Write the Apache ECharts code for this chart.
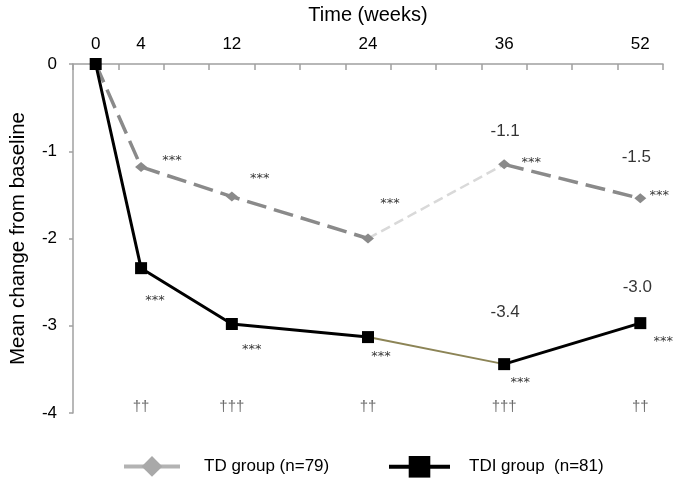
<!DOCTYPE html>
<html>
<head>
<meta charset="utf-8">
<script src="https://cdn.jsdelivr.net/npm/echarts@6/dist/echarts.min.js"></script>
<style>
html,body{margin:0;padding:0;background:#fff;}
#chart{width:673px;height:488px;}
</style>
</head>
<body>
<div id="chart"></div>
<script>
// ---- data ----
const xTickLabels = ['0','4','','12','','','24','','','36','','','52'];
const tdValues  = [0, -1.18, null, -1.52, null, null, -2.00, null, null, -1.15, null, null, -1.54];
const tdiValues = [0, -2.34, null, -2.98, null, null, -3.13, null, null, -3.44, null, null, -2.97];
const tdStars   = ['', '***', '', '***', '', '', '***', '', '', '***', '', '', '***'];
const tdiStars  = ['', '***', '', '***', '', '', '***', '', '', '***', '', '', '***'];
const tdValueLabels  = ['', '', '', '', '', '', '', '', '', '-1.1', '', '', '-1.5'];
const tdiValueLabels = ['', '', '', '', '', '', '', '', '', '-3.4', '', '', '-3.0'];
const daggers = ['', '††', '', '†††', '', '', '††', '', '', '†††', '', '', '††'];
const tdName = 'TD group (n=79)';
const tdiName = 'TDI group  (n=81)';
const yTicks = { min: -4, max: 0, step: 1 };
const specialFrom = '24', specialTo = '36';

// ---- styles (offsets in px) ----
const tdStarOffsets  = {1:[31,-6], 3:[28,-18], 6:[22,-35], 9:[27,-2], 12:[19,-3]};
const tdiStarOffsets = {1:[14,32], 3:[20,26], 6:[13,20], 9:[16,18], 12:[23,18]};
const tdValOffsets   = {9:[1,-33], 12:[-4,-41]};
const tdiValOffsets  = {9:[1,-52], 12:[-3,-36]};
const FONT = 'Liberation Sans, Arial, Helvetica, sans-serif';
const STAR_FONT = 'DejaVu Sans, sans-serif';

const iFrom = xTickLabels.indexOf(specialFrom);
const iTo = xTickLabels.indexOf(specialTo);
function slice(arr, a, b) { return arr.map((v, i) => (i >= a && i <= b) ? v : null); }

function segSeries(data, style) {
  return { type: 'line', data: data, connectNulls: true, showSymbol: false, symbol: 'none',
           silent: true, lineStyle: style, z: 2 };
}
function annot(values, texts, offsets, fontSize, color, family) {
  const d = [];
  values.forEach((v, i) => {
    if (v == null || !texts[i]) return;
    const off = offsets[i] || [0, 0];
    d.push({ value: [i, v], label: { show: true, formatter: texts[i], offset: off } });
  });
  return { type: 'scatter', data: d, symbolSize: 1, silent: true, z: 5,
           itemStyle: { color: 'rgba(0,0,0,0)' },
           label: { show: true, position: 'inside', fontSize: fontSize, color: color, fontFamily: family || FONT } };
}

const tdDark = { color: '#8a8a8a', width: 3.5, type: [20, 8] };
const tdLight = { color: '#d9d9d9', width: 2.5, type: [10, 5] };
const tdiDark = { color: '#000000', width: 3, type: 'solid' };
const tdiOlive = { color: '#8c8456', width: 2, type: 'solid' };

const daggerVals = daggers.map(() => yTicks.min);
const daggerOffsets = {};
daggers.forEach((t, i) => { daggerOffsets[i] = [0, -6]; });

const chart = echarts.init(document.getElementById('chart'), null, { renderer: 'canvas' });
chart.setOption({
  animation: false,
  backgroundColor: '#fff',
  textStyle: { fontFamily: FONT },
  grid: { left: 66, right: 10, top: 63, bottom: 75, containLabel: false },
  legend: [
    { data: [{ name: tdName, itemStyle: { color: '#a9a9a9' }, lineStyle: { color: '#b3b3b3', width: 4, type: 'solid' } }],
      left: 117, top: 451, itemWidth: 56, itemHeight: 26,
      textStyle: { fontSize: 17, color: '#000', fontFamily: FONT, padding: [0, 0, 0, 19] } },
    { data: [{ name: tdiName, itemStyle: { color: '#000' }, lineStyle: { color: '#000', width: 4, type: 'solid' } }],
      left: 382, top: 451, itemWidth: 61, itemHeight: 27,
      textStyle: { fontSize: 17, color: '#000', fontFamily: FONT, padding: [0, 0, 0, 14] } }
  ],
  xAxis: {
    type: 'category', position: 'top', data: xTickLabels, boundaryGap: true,
    name: 'Time (weeks)', nameLocation: 'middle', nameGap: 39,
    nameTextStyle: { fontSize: 20, color: '#000', fontFamily: FONT },
    axisLine: { show: true, lineStyle: { color: '#a0a0a0', width: 1.5 } },
    axisTick: { show: true, inside: true, length: 6, alignWithLabel: false, interval: 0, lineStyle: { color: '#a0a0a0', width: 1.5 } },
    axisLabel: { interval: 0, fontSize: 17, color: '#000', margin: 11, fontFamily: FONT },
    splitLine: { show: false }
  },
  yAxis: {
    type: 'value', min: yTicks.min, max: yTicks.max, interval: yTicks.step,
    name: 'Mean change from baseline', nameLocation: 'middle', nameGap: 44,
    nameTextStyle: { fontSize: 20.5, color: '#000', fontFamily: FONT },
    axisLine: { show: true, lineStyle: { color: '#a0a0a0', width: 1.5 } },
    axisTick: { show: true, inside: false, length: 4, lineStyle: { color: '#a0a0a0', width: 1.5 } },
    axisLabel: { fontSize: 17, color: '#000', margin: 16, fontFamily: FONT },
    splitLine: { show: false }
  },
  series: [
    segSeries(slice(tdValues, 0, iFrom), tdDark),
    segSeries(slice(tdValues, iFrom, iTo), tdLight),
    segSeries(slice(tdValues, iTo, tdValues.length - 1), tdDark),
    segSeries(slice(tdiValues, 0, iFrom), tdiDark),
    segSeries(slice(tdiValues, iFrom, iTo), tdiOlive),
    segSeries(slice(tdiValues, iTo, tdiValues.length - 1), tdiDark),
    { name: tdName, type: 'line', data: tdValues, connectNulls: true, symbol: 'diamond', symbolSize: [12, 10],
      showSymbol: true, showAllSymbol: true, itemStyle: { color: '#8a8a8a' },
      lineStyle: { width: 0, color: '#8a8a8a' }, z: 3 },
    { name: tdiName, type: 'line', data: tdiValues, connectNulls: true, symbol: 'rect', symbolSize: 12,
      showSymbol: true, showAllSymbol: true, itemStyle: { color: '#000' },
      lineStyle: { width: 0, color: '#000' }, z: 4 },
    annot(tdValues, tdStars, tdStarOffsets, 13, '#000', STAR_FONT),
    annot(tdiValues, tdiStars, tdiStarOffsets, 13, '#000', STAR_FONT),
    annot(tdValues, tdValueLabels, tdValOffsets, 17, '#000'),
    annot(tdiValues, tdiValueLabels, tdiValOffsets, 17, '#000'),
    annot(daggerVals, daggers, daggerOffsets, 15, '#444')
  ]
});
</script>
</body>
</html>
